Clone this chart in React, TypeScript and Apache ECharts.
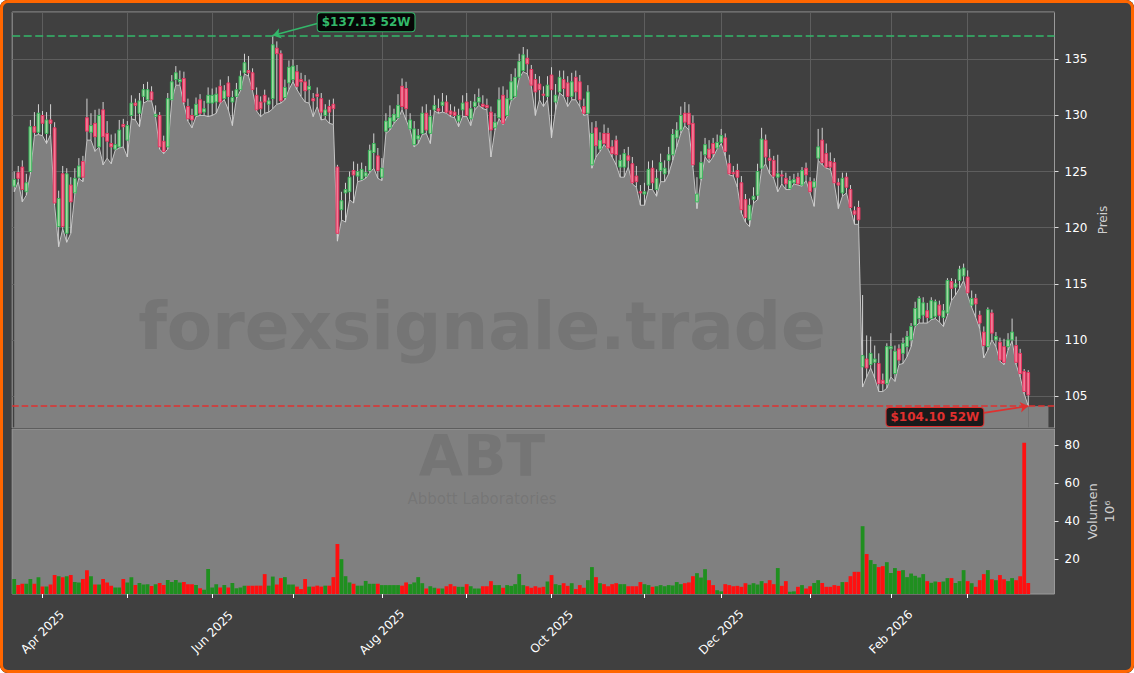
import React, { useEffect, useRef } from 'react';
import * as echarts from 'echarts';

// ---- Data (ABT daily, trading-day index 0 = 21 Mar 2025) ----
const opens = [
  123.7, 124.9, 125.4, 123.2, 125.0, 129.0, 128.5, 130.0, 128.4, 129.6,
  128.9, 120.1, 124.8, 119.5, 123.8, 123.1, 124.5, 125.9, 129.8, 128.5,
  129.3, 127.2, 130.5, 128.4, 127.5, 127.0, 127.2, 129.2, 127.8, 130.0,
  131.1, 130.2, 131.7, 131.4, 132.1, 129.9, 130.0, 127.7, 127.2, 131.4,
  133.2, 133.0, 133.3, 130.8, 130.0, 130.0, 131.4, 130.3, 131.1, 131.1,
  131.2, 132.6, 131.5, 132.9, 131.2, 131.7, 132.3, 133.8, 134.0, 133.8,
  131.8, 131.2, 131.8, 131.0, 131.5, 136.0, 135.5, 131.6, 132.9, 133.2,
  133.9, 133.2, 133.0, 132.3, 131.5, 131.9, 131.5, 130.0, 130.8, 131.0,
  125.4, 121.6, 123.1, 123.2, 125.1, 124.6, 124.3, 124.6, 125.1, 126.7,
  126.4, 124.5, 128.6, 128.9, 129.5, 129.8, 132.6, 132.4, 128.8, 127.4,
  127.9, 128.4, 130.2, 128.4, 130.5, 130.6, 130.9, 131.2, 130.4, 130.3,
  129.5, 130.5, 131.2, 129.7, 130.8, 131.2, 131.0, 130.9, 130.3, 128.9,
  129.8, 131.8, 130.0, 131.4, 131.7, 133.4, 134.0, 135.1, 134.1, 133.2,
  132.8, 131.9, 131.7, 133.6, 131.2, 132.1, 133.2, 132.9, 131.7, 133.4,
  133.0, 130.8, 130.2, 125.6, 128.9, 127.0, 128.4, 128.4, 127.2, 127.8,
  125.4, 125.4, 126.4, 125.7, 124.6, 123.2, 123.0, 123.8, 125.3, 123.4,
  125.1, 124.8, 126.0, 126.5, 128.0, 128.7, 130.2, 130.2, 129.3, 122.3,
  124.4, 126.5, 127.0, 127.5, 127.1, 127.6, 128.0, 125.7, 124.9, 125.1,
  124.0, 122.5, 120.7, 122.5, 122.9, 125.3, 127.8, 126.2, 126.0, 124.5,
  124.7, 124.4, 123.5, 124.0, 124.5, 123.8, 125.3, 124.1, 123.6, 126.2,
  127.8, 126.6, 125.9, 125.8, 124.0, 123.1, 124.5, 123.4, 121.5, 121.8,
  107.6, 108.3, 107.8, 108.0, 107.9, 106.4, 106.1, 109.2, 107.0, 109.2,
  108.8, 109.4, 110.0, 111.3, 111.9, 112.2, 112.6, 111.9, 112.1, 113.1,
  112.0, 112.4, 115.2, 114.7, 115.3, 115.7, 115.6, 113.1, 113.7, 112.2,
  110.7, 109.4, 112.4, 110.0, 109.8, 109.4, 109.4, 110.0, 109.5, 108.8,
  107.2, 107.1,
];
const highs = [
  125.0, 125.5, 126.0, 124.8, 129.6, 130.3, 131.0, 130.4, 130.3, 131.0,
  129.4, 123.3, 125.5, 125.3, 124.5, 125.3, 126.2, 126.4, 131.5, 130.2,
  130.5, 130.6, 131.2, 129.5, 128.3, 128.4, 129.6, 129.7, 129.5, 131.8,
  131.5, 132.0, 132.8, 133.0, 132.6, 130.9, 130.3, 128.2, 132.0, 133.6,
  134.4, 134.0, 133.9, 131.5, 130.6, 131.6, 131.9, 131.3, 132.5, 132.4,
  132.5, 133.2, 132.7, 133.5, 132.2, 132.9, 134.0, 135.5, 135.3, 134.2,
  132.5, 131.7, 132.3, 131.6, 137.13, 136.6, 135.8, 133.2, 134.9, 135.0,
  134.5, 133.8, 133.6, 133.2, 132.0, 132.5, 132.0, 131.0, 131.4, 131.5,
  125.6, 123.2, 124.0, 125.0, 125.9, 125.7, 125.8, 125.5, 127.4, 128.4,
  127.1, 126.2, 130.2, 130.9, 130.6, 131.9, 133.3, 133.0, 130.2, 129.5,
  128.8, 130.8, 131.0, 130.5, 131.8, 131.5, 132.0, 131.8, 131.0, 130.8,
  130.6, 131.8, 132.0, 131.3, 131.9, 132.4, 131.8, 131.5, 130.8, 130.2,
  132.5, 132.6, 132.3, 133.7, 134.2, 135.5, 136.1, 135.9, 134.5, 133.7,
  133.5, 132.6, 133.5, 134.3, 132.8, 134.0, 134.0, 133.5, 133.8, 134.0,
  133.6, 131.5, 132.7, 129.4, 129.5, 128.5, 129.2, 128.9, 127.8, 128.2,
  126.5, 127.0, 127.2, 126.3, 125.5, 123.8, 124.0, 125.9, 126.0, 125.2,
  126.6, 126.0, 127.2, 128.8, 129.4, 130.8, 131.2, 131.0, 130.0, 124.5,
  126.8, 128.0, 127.8, 128.0, 128.3, 128.8, 128.4, 126.5, 125.5, 125.7,
  124.6, 123.0, 122.6, 123.6, 125.7, 128.9, 128.3, 127.0, 126.4, 126.5,
  125.1, 124.9, 124.6, 124.8, 124.9, 125.4, 125.8, 124.5, 124.4, 128.8,
  128.9, 127.5, 126.7, 126.2, 124.4, 124.9, 124.9, 123.8, 121.9, 122.4,
  114.0, 110.4, 110.3, 109.5, 108.8, 107.0, 109.7, 110.6, 109.5, 109.6,
  110.2, 110.8, 111.5, 113.4, 113.9, 113.8, 113.3, 113.8, 113.6, 113.5,
  113.2, 115.5, 115.5, 115.4, 116.6, 116.8, 116.2, 114.4, 114.1, 112.6,
  111.2, 112.9, 112.7, 110.7, 110.2, 110.1, 110.6, 111.9, 110.3, 109.2,
  107.4, 107.3,
];
const lows = [
  123.2, 124.1, 122.3, 122.9, 124.8, 128.2, 128.3, 128.2, 127.5, 128.3,
  122.0, 118.3, 119.9, 118.7, 119.5, 123.0, 124.4, 124.1, 127.8, 127.8,
  126.8, 127.2, 125.6, 126.2, 125.7, 126.9, 127.1, 127.2, 126.3, 129.7,
  129.6, 129.0, 131.1, 131.3, 131.3, 129.8, 127.0, 126.6, 127.0, 131.3,
  132.7, 132.7, 131.0, 129.5, 128.9, 129.9, 130.0, 130.0, 129.9, 130.0,
  130.2, 131.1, 131.4, 130.5, 129.1, 131.5, 132.2, 133.7, 133.5, 132.2,
  130.4, 129.9, 130.2, 130.3, 130.6, 131.0, 131.1, 131.4, 132.3, 133.0,
  132.3, 131.7, 131.2, 131.1, 129.9, 130.8, 129.6, 129.7, 129.3, 129.2,
  118.8, 120.7, 120.5, 122.5, 122.2, 124.1, 124.2, 124.4, 124.9, 125.3,
  124.4, 124.2, 128.4, 128.7, 129.3, 129.7, 130.5, 129.6, 128.7, 127.2,
  127.5, 128.3, 128.4, 127.5, 130.4, 130.2, 130.3, 130.2, 129.9, 129.8,
  129.0, 129.9, 129.9, 129.1, 130.5, 130.9, 130.6, 130.5, 126.3, 128.7,
  129.7, 129.2, 129.9, 131.3, 131.6, 133.3, 133.9, 133.7, 132.6, 130.0,
  131.4, 130.8, 131.4, 128.0, 130.5, 132.0, 131.7, 130.8, 131.4, 131.4,
  130.8, 130.0, 130.1, 125.3, 126.3, 126.8, 127.4, 127.0, 126.3, 125.6,
  124.5, 124.5, 125.4, 123.9, 123.6, 122.0, 122.0, 123.4, 123.4, 122.8,
  124.1, 124.1, 124.8, 126.0, 127.2, 128.4, 129.1, 128.7, 125.4, 121.7,
  124.2, 126.3, 125.8, 126.3, 127.0, 127.5, 126.4, 124.7, 124.6, 123.6,
  121.3, 120.5, 120.1, 122.2, 122.5, 125.2, 125.7, 124.8, 124.4, 123.2,
  123.9, 123.4, 123.4, 123.9, 123.8, 123.7, 124.2, 123.1, 121.9, 126.0,
  125.6, 125.3, 125.2, 123.9, 121.7, 122.8, 123.1, 121.7, 120.3, 120.3,
  105.8, 106.7, 107.5, 106.6, 105.4, 105.4, 105.7, 106.7, 106.3, 107.8,
  107.9, 108.5, 109.4, 111.2, 111.5, 111.5, 111.5, 111.8, 111.9, 111.6,
  111.2, 112.2, 113.5, 114.0, 114.6, 115.3, 114.0, 112.9, 112.0, 111.0,
  108.4, 109.1, 110.0, 109.4, 108.1, 107.8, 109.1, 109.9, 107.8, 106.7,
  105.2, 104.1,
];
const closes = [
  124.3, 124.4, 123.4, 124.0, 129.0, 128.5, 130.2, 129.3, 129.6, 129.3,
  122.2, 122.6, 120.1, 124.8, 122.3, 124.4, 125.5, 124.5, 128.6, 129.1,
  128.1, 130.0, 128.1, 127.7, 127.2, 127.4, 128.7, 129.0, 129.1, 131.1,
  130.9, 131.3, 132.3, 132.3, 131.4, 130.1, 127.2, 126.8, 131.5, 133.0,
  133.8, 133.2, 131.2, 129.7, 129.6, 131.0, 130.2, 130.6, 131.8, 131.8,
  131.9, 131.2, 132.2, 131.7, 131.6, 132.3, 133.5, 134.7, 133.8, 132.3,
  130.5, 130.6, 131.2, 131.3, 136.3, 135.5, 131.3, 132.5, 134.3, 134.4,
  132.6, 133.0, 132.2, 132.6, 131.3, 131.7, 130.3, 130.5, 130.3, 130.6,
  119.5, 122.4, 123.4, 124.5, 124.7, 125.0, 125.2, 124.9, 126.9, 127.5,
  125.1, 125.3, 129.5, 129.8, 130.1, 130.9, 130.8, 130.6, 129.6, 128.8,
  128.2, 130.2, 128.7, 129.9, 130.9, 130.4, 131.2, 130.3, 130.1, 130.0,
  130.0, 131.1, 130.0, 130.6, 131.2, 131.6, 130.8, 130.7, 128.7, 129.4,
  131.4, 129.3, 131.5, 133.0, 133.4, 134.8, 135.4, 134.6, 132.7, 132.1,
  132.3, 131.8, 132.7, 132.3, 131.8, 133.4, 132.4, 131.7, 133.0, 132.1,
  131.4, 130.2, 132.1, 128.4, 127.3, 127.8, 127.5, 127.1, 126.6, 126.5,
  126.0, 126.6, 126.0, 124.0, 124.1, 123.1, 123.2, 125.2, 124.0, 124.4,
  125.8, 125.3, 126.5, 128.3, 128.7, 130.0, 129.4, 129.2, 125.6, 123.0,
  125.8, 127.4, 126.2, 126.6, 127.6, 128.2, 126.8, 124.8, 124.8, 124.5,
  121.6, 120.9, 122.0, 122.8, 125.0, 127.9, 126.3, 126.0, 124.6, 124.8,
  124.6, 123.9, 124.2, 124.3, 123.9, 125.1, 124.7, 123.2, 124.1, 127.2,
  125.8, 125.4, 125.4, 124.0, 123.8, 124.4, 123.6, 121.8, 121.2, 120.7,
  108.6, 107.5, 108.8, 108.3, 106.1, 106.1, 109.4, 109.4, 109.0, 108.2,
  109.7, 110.3, 111.2, 112.8, 113.7, 113.3, 112.0, 113.5, 113.4, 112.2,
  112.6, 115.3, 114.6, 115.0, 116.3, 116.4, 114.2, 113.7, 113.2, 111.5,
  109.5, 112.7, 110.6, 110.3, 108.2, 108.0, 110.0, 110.7, 108.0, 107.0,
  105.4, 105.1,
];
// volume in millions of shares
const volumes = [
  9.5, 6.3, 7.0, 7.0, 9.5, 7.0, 10.5, 5.5, 5.5, 6.6,
  11.6, 11.0, 10.5, 11.0, 11.6, 8.0, 7.7, 9.5, 14.2, 11.0,
  6.6, 6.6, 9.5, 7.7, 6.0, 5.0, 5.0, 9.5, 7.7, 10.5,
  6.3, 7.4, 6.6, 6.8, 5.8, 6.8, 7.4, 6.3, 9.0, 8.0,
  9.0, 7.7, 7.9, 6.8, 6.8, 6.3, 4.6, 3.9, 14.8, 5.0,
  6.8, 5.0, 6.3, 5.0, 7.4, 4.6, 5.0, 6.0, 6.0, 6.0,
  6.0, 6.0, 12.1, 6.0, 10.8, 6.6, 10.0, 10.5, 6.6, 6.6,
  5.5, 4.2, 9.5, 5.5, 5.5, 6.0, 5.5, 6.0, 6.0, 10.5,
  28.0, 20.0, 11.0, 7.7, 7.0, 6.0, 6.0, 8.5, 7.0, 7.0,
  7.0, 6.3, 6.3, 6.3, 6.3, 6.3, 6.0, 7.7, 6.8, 7.7,
  10.5, 7.3, 4.5, 5.7, 4.9, 4.5, 4.5, 5.7, 6.8, 5.7,
  5.4, 5.4, 6.8, 5.7, 4.5, 4.5, 5.7, 5.7, 8.4, 6.3,
  6.3, 4.9, 6.3, 5.9, 6.8, 12.1, 6.3, 5.7, 4.9, 5.7,
  5.0, 5.4, 8.2, 11.6, 6.8, 6.3, 7.3, 5.9, 7.3, 4.2,
  6.3, 4.9, 8.9, 15.8, 10.5, 7.3, 6.8, 5.7, 6.8, 7.3,
  6.8, 6.8, 5.7, 5.7, 5.7, 7.9, 6.8, 6.3, 5.4, 5.7,
  6.3, 5.7, 6.3, 6.1, 7.9, 6.8, 7.3, 7.7, 11.0, 12.6,
  10.3, 14.7, 8.9, 6.3, 3.6, 3.0, 6.8, 6.3, 5.7, 5.9,
  5.4, 7.3, 6.5, 7.3, 6.6, 8.4, 7.3, 8.9, 6.8, 15.3,
  5.9, 8.4, 2.8, 3.0, 5.4, 6.3, 4.5, 5.7, 7.4, 8.9,
  7.4, 5.4, 5.4, 6.3, 5.9, 7.9, 7.9, 11.0, 13.3, 13.3,
  37.4, 22.7, 19.5, 17.4, 15.8, 16.3, 18.4, 12.7, 15.3, 13.8,
  14.2, 10.5, 12.4, 11.2, 10.3, 12.1, 8.4, 7.5, 8.2, 7.9,
  8.2, 10.0, 10.0, 7.4, 8.4, 14.2, 8.4, 7.3, 5.4, 8.9,
  12.1, 14.2, 9.4, 8.9, 11.6, 9.4, 8.4, 10.0, 8.9, 11.0,
  81.4, 7.4,
];

// first trading day of each month (index) and their labels
const monthTickIndex = [7, 28, 49, 69, 91, 112, 133, 156, 175, 197, 217, 236];
const monthTickLabels = ['Apr 2025', '', 'Jun 2025', '', 'Aug 2025', '', 'Oct 2025', '', 'Dec 2025', '', 'Feb 2026', ''];
const priceAxisName = 'Preis';
const volumeAxisName = 'Volumen\n10\u2076';
const watermarkSite = 'forexsignale.trade';
const watermarkTicker = 'ABT';
const watermarkCompany = 'Abbott Laboratories';

// ---- layout / style constants ----
const SLOT_COUNT = 258;
const PRICE_MIN = 102.15;
const PRICE_MAX = 139.22;
const VOL_MIN = 1.6;
const VOL_MAX = 88.7;
const FILL_END_INDEX = 256;
const HIGH_LABEL_AT = [75, 138.3];
const HIGH_ARROW_FROM = [75, 138.2];
const LOW_LABEL_AT = [240, 103.13];
const LOW_ARROW_FROM = [240, 103.5];

const FONT = 'DejaVu Sans';
const BG = '#404040';
const FILL = '#808080';
const GRIDLINE = '#5e5e5e';
const FRAME = '#9a9a9a';
const UP_EDGE = '#36b85a';
const UP_BODY = '#a3d6a3';
const DOWN_EDGE = '#e8335f';
const DOWN_BODY = '#f07d97';
const WICK = '#d2d2d2';
const VOL_UP = '#1f8f1f';
const VOL_DOWN = '#ff1010';
const GREEN = '#33b86a';
const RED = '#e0302f';
const WM = 'rgba(64,64,64,0.18)';

const categories = Array.from({ length: SLOT_COUNT }, (_, i) => String(i));
const tickSet = new Set(monthTickIndex);
const labelMap: Record<number, string> = {};
monthTickIndex.forEach((idx, k) => { if (monthTickLabels[k]) labelMap[idx] = monthTickLabels[k]; });

const highest = Math.max(...highs);
const highIdx = highs.indexOf(highest);
const lowest = Math.min(...lows);
const lowIdx = lows.indexOf(lowest);
const lastLow = lows[lows.length - 1];

const candleData = opens.map((o, i) => [i, o, closes[i], lows[i], highs[i]]);
const volumeData = volumes.map((v, i) => ({
  value: v,
  itemStyle: { color: closes[i] >= opens[i] ? VOL_UP : VOL_DOWN },
}));

function buildOption(): any {
  return {
    animation: false,
    backgroundColor: BG,
    textStyle: { fontFamily: FONT },
    grid: [
      { left: 12.2, right: 79.5, top: 12, height: 416, show: true, borderColor: FRAME, borderWidth: 1, backgroundColor: 'transparent' },
      { left: 12.2, right: 79.5, top: 429, height: 165, show: true, borderColor: FRAME, borderWidth: 1, backgroundColor: FILL },
    ],
    xAxis: [
      {
        type: 'category', gridIndex: 0, data: categories, boundaryGap: true,
        axisLine: { show: false }, axisTick: { show: false }, axisLabel: { show: false }, splitLine: { show: false },
      },
      {
        type: 'category', gridIndex: 1, data: categories, boundaryGap: true,
        axisLine: { show: false },
        axisTick: {
          show: true, alignWithLabel: true, length: 4,
          interval: (idx: number) => tickSet.has(idx),
          lineStyle: { color: '#ffffff', width: 1 },
        },
        axisLabel: {
          show: true,
          interval: (idx: number) => labelMap[idx] !== undefined,
          formatter: (v: string) => labelMap[Number(v)] || '',
          rotate: 45, align: 'center', verticalAlign: 'middle', margin: 38,
          color: '#ffffff', fontSize: 12, fontFamily: FONT,
        },
        splitLine: { show: false },
      },
    ],
    yAxis: [
      {
        type: 'value', gridIndex: 0, position: 'right', min: PRICE_MIN, max: PRICE_MAX,
        minInterval: 5, maxInterval: 5, splitNumber: 7,
        axisLine: { show: false },
        axisTick: { show: true, length: 4, lineStyle: { color: '#dddddd' } },
        axisLabel: { color: '#ffffff', fontSize: 12, margin: 10, showMinLabel: false, showMaxLabel: false, fontFamily: FONT },
        splitLine: { show: true, lineStyle: { color: GRIDLINE, width: 1 } },
        name: priceAxisName, nameLocation: 'middle', nameRotate: 90, nameGap: 42, nameMoveOverlap: false,
        nameTextStyle: { color: '#cfcfcf', fontSize: 12, fontFamily: FONT },
      },
      {
        type: 'value', gridIndex: 1, position: 'right', min: VOL_MIN, max: VOL_MAX,
        minInterval: 20, maxInterval: 20,
        axisLine: { show: false },
        axisTick: { show: true, length: 4, lineStyle: { color: '#dddddd' } },
        axisLabel: { color: '#ffffff', fontSize: 12, margin: 10, showMinLabel: false, showMaxLabel: false, fontFamily: FONT },
        splitLine: { show: false },
        name: volumeAxisName, nameLocation: 'middle', nameRotate: 90, nameGap: 29, nameMoveOverlap: false,
        nameTextStyle: { color: '#cfcfcf', fontSize: 13, lineHeight: 17.5, fontFamily: FONT },
      },
    ],
    graphic: [
      {
        type: 'text', x: 482, y: 326, z: 3, silent: true,
        style: { text: watermarkSite, fill: WM, font: `bold 66px "${FONT}"`, textAlign: 'center', textVerticalAlign: 'middle' },
      },
      {
        type: 'text', x: 482, y: 456, z: 3, silent: true,
        style: { text: watermarkTicker, fill: WM, font: `bold 57px "${FONT}"`, textAlign: 'center', textVerticalAlign: 'middle' },
      },
      {
        type: 'text', x: 482, y: 498.5, z: 3, silent: true,
        style: { text: watermarkCompany, fill: WM, font: `15px "${FONT}"`, textAlign: 'center', textVerticalAlign: 'middle' },
      },
    ],
    series: [
      {
        name: 'gridlines', type: 'line', xAxisIndex: 0, yAxisIndex: 0, data: [], z: 1, silent: true,
        markLine: {
          silent: true, z: 1, symbol: ['none', 'none'], label: { show: false },
          lineStyle: { color: GRIDLINE, type: 'solid', width: 1 },
          data: monthTickIndex.map((i) => ({ xAxis: i })),
        },
      },
      {
        name: 'Low', type: 'line', xAxisIndex: 0, yAxisIndex: 0, data: lows, z: 2,
        symbol: 'none', silent: true,
        lineStyle: { color: '#c4c4c4', width: 1 },
        areaStyle: { color: FILL, opacity: 1, origin: 'start' },
        markArea: {
          silent: true, z: 1,
          itemStyle: { color: FILL, opacity: 1 },
          data: [[{ xAxis: lows.length - 1, yAxis: PRICE_MIN }, { xAxis: FILL_END_INDEX, yAxis: lastLow }]],
        },
      },
      {
        name: 'ABT', type: 'custom', xAxisIndex: 0, yAxisIndex: 0, z: 4, silent: true,
        data: candleData,
        renderItem: (params: any, api: any) => {
          const i = api.value(0);
          const o = api.value(1);
          const c = api.value(2);
          const l = api.value(3);
          const h = api.value(4);
          const up = c >= o;
          const pH = api.coord([i, h]);
          const pL = api.coord([i, l]);
          const pT = api.coord([i, Math.max(o, c)]);
          const pB = api.coord([i, Math.min(o, c)]);
          const bw = api.size([1, 0])[0] * 0.68;
          const x = pH[0];
          return {
            type: 'group',
            children: [
              { type: 'line', shape: { x1: x, y1: pH[1], x2: x, y2: pL[1] }, style: { stroke: WICK, lineWidth: 1 } },
              {
                type: 'rect',
                shape: { x: x - bw / 2, y: pT[1], width: bw, height: Math.max(pB[1] - pT[1], 1) },
                style: { fill: up ? UP_BODY : DOWN_BODY, stroke: up ? UP_EDGE : DOWN_EDGE, lineWidth: 1 },
              },
            ],
          };
        },
      },
      {
        name: 'annotations', type: 'line', xAxisIndex: 0, yAxisIndex: 0, data: [], z: 5, silent: true,
        markLine: {
          silent: true, z: 5, symbol: ['none', 'none'], label: { show: false },
          data: [
            { yAxis: highest, lineStyle: { color: GREEN, type: [8, 3.5], width: 1.5 } },
            { yAxis: lowest, lineStyle: { color: RED, type: [6.5, 3], width: 1.5 } },
            [
              { coord: HIGH_ARROW_FROM, symbol: 'none', lineStyle: { color: GREEN, type: 'solid', width: 1.6 } },
              { coord: [highIdx, highest], symbol: 'arrow', symbolSize: 8 },
            ],
            [
              { coord: LOW_ARROW_FROM, symbol: 'none', lineStyle: { color: RED, type: 'solid', width: 1.6 } },
              { coord: [lowIdx, lowest], symbol: 'arrow', symbolSize: 8 },
            ],
          ],
        },
        markPoint: {
          silent: true, z: 6, symbol: 'rect', symbolSize: 1,
          itemStyle: { color: 'rgba(0,0,0,0)' },
          data: [
            {
              coord: HIGH_LABEL_AT, value: highest,
              label: {
                show: true, position: 'right', distance: 0,
                formatter: `$${highest.toFixed(2)} 52W`,
                color: GREEN, backgroundColor: '#060606', borderColor: GREEN, borderWidth: 1, borderRadius: 3,
                padding: [3, 4, 3, 4], fontWeight: 'bold', fontSize: 12, fontFamily: FONT,
              },
            },
            {
              coord: LOW_LABEL_AT, value: lowest,
              label: {
                show: true, position: 'left', distance: 0,
                formatter: `$${lowest.toFixed(2)} 52W`,
                color: RED, backgroundColor: '#1a1a1a', borderColor: RED, borderWidth: 1, borderRadius: 3,
                padding: [3, 4, 3, 4], fontWeight: 'bold', fontSize: 12, fontFamily: FONT,
              },
            },
          ],
        },
      },
      {
        name: 'Volumen', type: 'bar', xAxisIndex: 1, yAxisIndex: 1, data: volumeData,
        barWidth: '94%', silent: true, z: 2,
      },
    ],
  };
}

export default function App() {
  const ref = useRef<HTMLDivElement>(null);
  useEffect(() => {
    if (!ref.current) return;
    const chart = echarts.init(ref.current, null, { renderer: 'svg' });
    chart.setOption(buildOption());
    return () => chart.dispose();
  }, []);
  return (
    <div style={{ position: 'fixed', left: 0, top: 0, width: 1134, height: 673, background: '#ffffff' }}>
      <div style={{ position: 'absolute', left: 0, top: 0, width: 1134, height: 673, borderRadius: 8, overflow: 'hidden', background: BG }}>
        <div ref={ref} style={{ width: 1134, height: 673 }} />
      </div>
      <div
        style={{
          position: 'absolute', left: 0, top: 0, width: 1134, height: 673, boxSizing: 'border-box',
          border: '3px solid #ff6600', borderRadius: 8, pointerEvents: 'none',
        }}
      />
    </div>
  );
}
